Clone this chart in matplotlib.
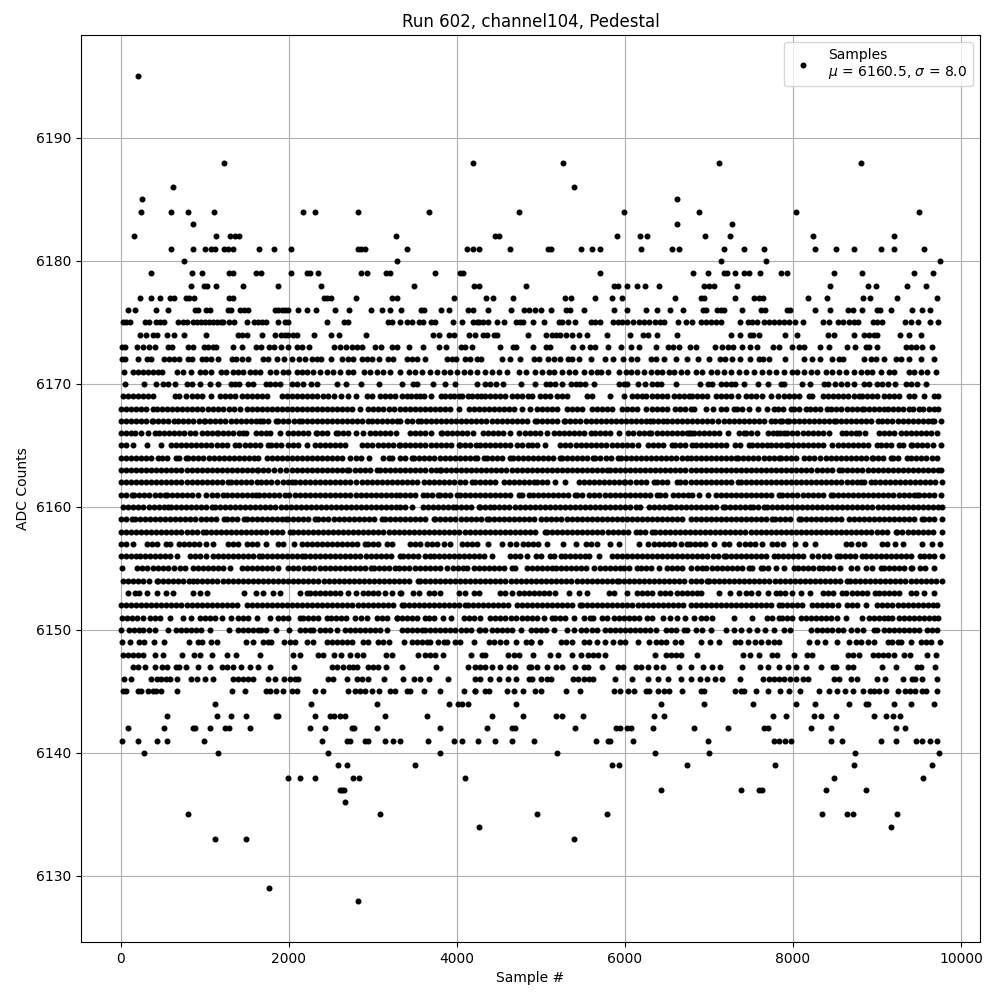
import matplotlib
matplotlib.use("Agg")
import matplotlib.pyplot as plt
import numpy as np

# sample numbers, one list per ADC level
s6195 = [199]
s6188 = [1226, 4187, 5262, 7120, 8811]
s6186 = [617, 5393]
s6185 = [247, 6619]
s6184 = [235, 593, 796, 1106, 2169, 2312, 2826, 3662, 4736, 5988, 6881, 8037, 9501]
s6183 = [856, 6619, 7274]
s6182 = [151, 1130, 1297, 1361, 1405, 3268, 4454, 4501, 5905, 6179, 6262, 6953, 7251, 8239, 9204]
s6181 = [593, 856, 999, 1070, 1114, 1226, 1274, 1333, 1644, 1823, 2026, 2826, 2862, 2909, 3399, 4115, 4187, 4259, 4629,
         5083, 5119, 5476, 5607, 5702, 6190, 6560, 6643, 7179, 7417, 7655, 8263, 8513, 8727, 9049, 9204, 9561]
s6180 = [748, 3291, 7143, 7679, 9752]
s6179 = [354, 844, 963, 1286, 1333, 1608, 1668, 2026, 2217, 2253, 2344, 2862, 2933, 3160, 3208, 3733, 4032, 4068,
         5702, 6810, 6989, 7179, 7215, 7310, 7417, 7477, 7608, 7858, 7929, 8489, 8823, 9442, 9668]
s6178 = [832, 987, 1023, 1130, 1453, 1871, 2384, 3494, 4199, 4259, 4820, 5869, 5917, 6024, 6143, 6238, 6405, 6941, 7000,
         7060, 7334, 8442, 8894, 8989, 9359, 9585]
s6177 = [223, 354, 462, 581, 629, 772, 808, 868, 1286, 1333, 2420, 2456, 2503, 2802, 3232, 3280, 3960, 4342, 4426, 4665,
         5285, 5357, 5643, 5845, 5964, 6595, 6905, 6941, 7310, 7536, 7596, 7644, 8180, 8406, 8835, 8922, 9240, 9716]
s6176 = [80, 163, 414, 557, 880, 915, 1011, 1059, 1274, 1309, 1417, 1465, 1512, 1835, 1875, 1915, 1955, 1990, 2109, 2217,
         2324, 2551, 2718, 2981, 3112, 3208, 3339, 3566, 3602, 3805, 3900, 4127, 4187, 4366, 4641, 4796, 4856, 4928, 5000,
         5119, 5297, 5345, 5512, 5869, 6024, 6250, 6381, 6536, 6691, 6929, 6965, 7096, 7143, 7179, 7393, 7620, 7667, 7929,
         7965, 8263, 8442, 8656, 8715, 8823, 8999, 9037, 9168, 9418, 9537, 9632]
s6175 = [20, 60, 107, 291, 338, 418, 466, 513, 677, 736, 784, 856, 903, 951, 999, 1047, 1095, 1143, 1191, 1214, 1286, 1345,
         1500, 1584, 1632, 1680, 1731, 1867, 1954, 1990, 2456, 2659, 2706, 3184, 3232, 3323, 3407, 3459, 3542, 3590, 3685,
         3733, 3948, 4056, 4187, 4235, 4259, 4306, 4366, 4473, 4557, 4700, 4748, 4788, 4904, 5031, 5214, 5250, 5321, 5404,
         5595, 5643, 5702, 5857, 5917, 5968, 6028, 6099, 6167, 6226, 6286, 6357, 6417, 6464, 6631, 6726, 6798, 6905, 6965,
         7024, 7084, 7147, 7370, 7465, 7516, 7576, 7655, 7715, 7774, 7834, 7893, 7953, 8025, 8116, 8358, 8430, 8537, 8596,
         8668, 8727, 8775, 8954, 9005, 9065, 9335, 9403, 9482, 9629, 9728]
s6174 = [223, 295, 378, 426, 545, 629, 748, 1011, 1393, 1441, 1500, 1680, 1839, 1910, 1958, 1990, 2050, 2097, 2300, 2503,
         2599, 2921, 3709, 3785, 3900, 3960, 4139, 4219, 4306, 4358, 4438, 4477, 4844, 5059, 5131, 5174, 5222, 5293, 5369,
         5452, 5547, 5786, 6060, 6214, 6274, 6381, 6619, 7262, 7370, 7489, 7524, 7596, 7906, 8048, 8418, 8489, 8727, 8847,
         8906, 8966, 9005, 9275, 9382, 9525]
s6173 = [12, 44, 187, 259, 338, 402, 557, 605, 796, 856, 987, 1035, 1095, 1134, 1333, 1441, 1604, 1664, 1763, 1823, 1906,
         1990, 2097, 2149, 2241, 2539, 2607, 2683, 2754, 2806, 2866, 3029, 3096, 3224, 3284, 3423, 3590, 3781, 3865, 4044,
         4099, 4179, 4509, 4668, 4704, 4904, 5059, 5107, 5381, 5488, 5583, 5643, 5798, 5956, 6071, 6167, 6369, 6512, 6572,
         6643, 6774, 6846, 7072, 7155, 7227, 7286, 7393, 7489, 7576, 7763, 7834, 7989, 8072, 8132, 8318, 8430, 8644, 8739,
         8870, 8906, 8999, 9347, 9406, 9466, 9537, 9656]
s6172 = [12, 52, 199, 306, 358, 509, 569, 637, 685, 796, 844, 963, 1015, 1075, 1154, 1321, 1373, 1445, 1512, 1692, 1751,
         1863, 1946, 2038, 2121, 2189, 2277, 2328, 2380, 2503, 2635, 2706, 2766, 2874, 2925, 2993, 3077, 3184, 3244, 3403,
         3463, 3522, 3614, 3880, 3940, 3988, 4099, 4159, 4239, 4286, 4537, 4629, 4748, 4916, 4972, 5083, 5154, 5226, 5321,
         5373, 5452, 5595, 5762, 5857, 5980, 6067, 6139, 6310, 6369, 6464, 6607, 6738, 6869, 7000, 7131, 7187, 7274, 7366,
         7489, 7596, 7644, 7715, 7906, 8132, 8227, 8322, 8461, 8549, 8600, 8847, 8926, 8989, 9085, 9227, 9291, 9382, 9529, 9680]
s6171 = [40, 139, 199, 259, 318, 378, 438, 486, 669, 736, 836, 935, 995, 1075, 1194, 1254, 1333, 1393, 1453, 1532, 1592,
         1652, 1779, 1851, 1930, 1990, 2090, 2149, 2209, 2289, 2368, 2448, 2527, 2607, 2706, 2766, 2893, 2965, 3045, 3124,
         3204, 3323, 3423, 3502, 3582, 3681, 3761, 3841, 3920, 4000, 4080, 4159, 4239, 4338, 4418, 4497, 4597, 4736, 4816,
         4932, 5011, 5091, 5151, 5250, 5329, 5401, 5512, 5591, 5671, 5718, 5798, 5929, 6008, 6067, 6147, 6226, 6306, 6377,
         6445, 6524, 6584, 6663, 6742, 6842, 6921, 7020, 7100, 7179, 7258, 7358, 7437, 7536, 7636, 7715, 7794, 7894, 7993,
         8052, 8132, 8211, 8290, 8390, 8469, 8549, 8628, 8727, 8807, 8886, 8946, 9045, 9144, 9204, 9382, 9442, 9521, 9601, 9700]
s6170 = [52, 278, 421, 504, 564, 643, 790, 849, 945, 1064, 1159, 1314, 1362, 1409, 1516, 1576, 1727, 1774, 1834, 1893, 2032,
         2092, 2171, 2267, 2330, 2577, 2684, 2862, 3076, 3345, 3476, 3524, 3710, 3861, 3972, 4242, 4337, 4397, 4468, 4544,
         4766, 4925, 5064, 5112, 5171, 5254, 5362, 5413, 5469, 5529, 5628, 5925, 5985, 6025, 6152, 6243, 6322, 6382, 6430,
         6604, 6892, 6988, 7039, 7146, 7197, 7258, 7305, 7416, 7579, 7702, 7853, 7893, 8107, 8202, 8369, 8421, 8496, 8568,
         8647, 8726, 8846, 8905, 9004, 9064, 9131, 9215, 9342, 9401, 9480, 9580]
s6169 = [28, 87, 147, 206, 266, 325, 385, 643, 695, 774, 842, 901, 961, 1068, 1179, 1238, 1298, 1358, 1437, 1497, 1556, 1616,
         1675, 1735, 1914, 1973, 2033, 2092, 2152, 2211, 2271, 2330, 2410, 2469, 2541, 2616, 2708, 2803, 2926, 2985, 3085,
         3144, 3204, 3263, 3345, 3405, 3453, 3516, 3563, 3611, 3694, 3809, 3861, 3913, 3960, 4020, 4060, 4131, 4179, 4238,
         4286, 4337, 4397, 4457, 4516, 4576, 4655, 4715, 4774, 4842, 4893, 4993, 5052, 5112, 5191, 5251, 5310, 5548, 5608,
         5818, 5985, 6084, 6144, 6203, 6255, 6322, 6382, 6441, 6501, 6580, 6640, 6700, 6759, 6802, 6861, 6921, 6973, 7079,
         7138, 7198, 7258, 7345, 7436, 7496, 7555, 7635, 7742, 7821, 7893, 7952, 8012, 8071, 8190, 8230, 8361, 8421, 8480,
         8540, 8600, 8659, 8726, 8786, 8826, 8885, 8945, 8996, 9084, 9143, 9203, 9262, 9382, 9441, 9560, 9679, 9727]
s6168 = [5, 60, 120, 180, 240, 300, 385, 433, 490, 550, 610, 670, 730, 790, 850, 910, 970, 1030, 1090, 1150, 1210, 1280, 1345,
         1416, 1496, 1555, 1615, 1675, 1735, 1795, 1855, 1915, 1975, 2035, 2095, 2155, 2215, 2275, 2335, 2395, 2455, 2515, 2575,
         2635, 2695, 2755, 2845, 2945, 3005, 3065, 3125, 3185, 3245, 3323, 3380, 3440, 3500, 3560, 3623, 3682, 3742, 3802, 3862,
         3922, 4020, 4139, 4199, 4259, 4319, 4379, 4439, 4499, 4559, 4619, 4679, 4774, 4873, 4950, 5010, 5070, 5130, 5190, 5310,
         5370, 5430, 5490, 5608, 5668, 5728, 5788, 5848, 5966, 6025, 6085, 6145, 6255, 6320, 6382, 6442, 6502, 6600, 6660, 6720,
         6780, 6821, 6960, 7047, 7138, 7198, 7297, 7337, 7397, 7476, 7579, 7686, 7774, 7821, 7881, 7972, 8012, 8072, 8151, 8202,
         8262, 8322, 8409, 8457, 8517, 8577, 8637, 8697, 8757, 8826, 8846, 8906, 8966, 9026, 9084, 9131, 9191, 9251, 9311, 9382,
         9429, 9500, 9548, 9620, 9680, 9727]
s6167 = [3, 60, 120, 180, 240, 300, 365, 385, 445, 505, 565, 631, 683, 743, 803, 863, 923, 989, 1004, 1064, 1124, 1184, 1244,
         1304, 1364, 1424, 1484, 1544, 1604, 1655, 1695, 1755, 1842, 1874, 1934, 1994, 2054, 2120, 2152, 2212, 2272, 2332, 2392,
         2452, 2512, 2572, 2632, 2692, 2752, 2812, 2872, 2938, 2985, 3045, 3105, 3165, 3225, 3285, 3323, 3400, 3460, 3532, 3571,
         3631, 3691, 3751, 3811, 3871, 3931, 3991, 4051, 4111, 4171, 4231, 4291, 4351, 4411, 4471, 4531, 4591, 4651, 4711, 4771,
         4831, 4933, 4953, 5013, 5073, 5133, 5193, 5270, 5290, 5350, 5410, 5470, 5530, 5590, 5650, 5710, 5770, 5830, 5890, 5950,
         6010, 6070, 6130, 6190, 6250, 6303, 6334, 6394, 6453, 6500, 6560, 6620, 6680, 6740, 6800, 6860, 6920, 6980, 7040, 7110,
         7178, 7238, 7298, 7358, 7418, 7478, 7538, 7598, 7658, 7742, 7782, 7845, 7873, 7933, 7952, 8012, 8072, 8132, 8192, 8252,
         8312, 8372, 8432, 8488, 8508, 8568, 8628, 8688, 8748, 8808, 8868, 8928, 9012, 9064, 9124, 9184, 9244, 9304, 9364, 9424,
         9484, 9544, 9604, 9660, 9680, 9767]
s6166 = [2, 60, 120, 167, 234, 318, 400, 456, 516, 576, 636, 696, 756, 816, 876, 961, 1028, 1088, 1139, 1159, 1219, 1279, 1339,
         1399, 1457, 1484, 1604, 1664, 1724, 1775, 1895, 1985, 2045, 2105, 2165, 2225, 2322, 2338, 2398, 2458, 2560, 2588, 2648,
         2708, 2799, 2886, 2965, 3025, 3085, 3145, 3205, 3275, 3444, 3504, 3564, 3623, 3693, 3805, 3821, 3881, 3941, 4001, 4061,
         4121, 4190, 4310, 4370, 4430, 4490, 4550, 4627, 4734, 4806, 4866, 4926, 4986, 5072, 5157, 5211, 5271, 5338, 5390, 5449,
         5509, 5596, 5640, 5700, 5760, 5820, 5925, 6032, 6100, 6164, 6224, 6283, 6314, 6382, 6442, 6502, 6562, 6620, 6680, 6740,
         6780, 6761, 6821, 6881, 6941, 7001, 7061, 7121, 7226, 7357, 7417, 7444, 7504, 7575, 7702, 7762, 7813, 7845, 7893, 7933,
         7993, 8053, 8113, 8173, 8233, 8293, 8353, 8429, 8580, 8635, 8695, 8746, 8786, 8854, 9024, 9084, 9144, 9203, 9282, 9342,
         9402, 9462, 9522, 9582, 9642, 9719]
s6165 = [1, 60, 147, 315, 472, 595, 655, 715, 775, 835, 895, 955, 1015, 1075, 1139, 1199, 1259, 1358, 1407, 1477, 1537, 1597,
         1657, 1755, 1782, 1842, 1902, 1993, 2045, 2105, 2211, 2311, 2371, 2431, 2491, 2551, 2611, 2668, 2874, 2934, 2994, 3054,
         3114, 3174, 3234, 3305, 3325, 3385, 3445, 3505, 3565, 3625, 3685, 3745, 3805, 3865, 3925, 4020, 4032, 4092, 4152, 4230,
         4270, 4330, 4390, 4450, 4510, 4570, 4630, 4715, 4774, 4840, 4893, 4953, 5052, 5231, 5291, 5351, 5411, 5471, 5531, 5591,
         5651, 5711, 5771, 5846, 5906, 5966, 6026, 6086, 6152, 6271, 6331, 6391, 6451, 6561, 6600, 6660, 6720, 6801, 6841, 6901,
         6961, 7021, 7081, 7141, 7198, 7309, 7369, 7476, 7516, 7576, 7636, 7694, 7734, 7794, 7854, 7913, 7940, 8000, 8060, 8120,
         8180, 8240, 8300, 8360, 8468, 8536, 8596, 8656, 8716, 8776, 8836, 8896, 9004, 9044, 9104, 9164, 9262, 9314, 9401, 9421,
         9481, 9541, 9601, 9661, 9759]
s6164 = [2, 60, 120, 180, 240, 300, 360, 444, 484, 544, 655, 691, 770, 802, 862, 922, 982, 1042, 1102, 1162, 1222, 1282, 1342,
         1402, 1462, 1522, 1582, 1636, 1735, 1795, 1855, 1915, 1975, 2035, 2095, 2155, 2215, 2275, 2335, 2395, 2455, 2515, 2575,
         2635, 2727, 2795, 2855, 2954, 3125, 3185, 3224, 3323, 3380, 3464, 3492, 3552, 3612, 3672, 3732, 3792, 3852, 3912, 3972,
         4032, 4092, 4152, 4218, 4238, 4326, 4357, 4417, 4477, 4537, 4635, 4667, 4727, 4787, 4847, 4907, 4967, 5027, 5087, 5147,
         5231, 5251, 5311, 5371, 5431, 5491, 5551, 5620, 5648, 5708, 5768, 5828, 5914, 5953, 6013, 6073, 6133, 6193, 6253, 6313,
         6373, 6433, 6493, 6553, 6613, 6673, 6733, 6780, 6842, 6902, 6962, 7022, 7082, 7146, 7198, 7258, 7317, 7345, 7405, 7465,
         7525, 7583, 7654, 7714, 7774, 7833, 7853, 7913, 7973, 8032, 8131, 8191, 8251, 8322, 8393, 8453, 8513, 8573, 8633, 8693,
         8753, 8813, 8873, 8937, 8957, 9017, 9077, 9163, 9195, 9255, 9362, 9401, 9461, 9521, 9581, 9660, 9719]
s6163 = [3, 60, 120, 180, 240, 300, 360, 420, 480, 540, 600, 660, 720, 780, 840, 900, 960, 1020, 1080, 1140, 1200, 1260, 1320,
         1380, 1440, 1500, 1560, 1616, 1636, 1696, 1756, 1816, 1893, 1965, 2033, 2093, 2153, 2213, 2273, 2333, 2393, 2453, 2513,
         2573, 2633, 2688, 2720, 2780, 2840, 2900, 2960, 3045, 3085, 3145, 3205, 3265, 3323, 3385, 3445, 3505, 3565, 3625, 3685,
         3745, 3801, 3809, 3869, 3929, 3989, 4049, 4109, 4169, 4229, 4289, 4349, 4409, 4469, 4529, 4589, 4649, 4709, 4769, 4829,
         4889, 4949, 5009, 5069, 5129, 5189, 5249, 5309, 5369, 5429, 5489, 5549, 5609, 5669, 5729, 5780, 5818, 5878, 5938, 5998,
         6058, 6118, 6178, 6238, 6298, 6358, 6418, 6478, 6538, 6598, 6658, 6718, 6780, 6840, 6900, 6960, 7020, 7080, 7140, 7200,
         7260, 7320, 7380, 7440, 7500, 7560, 7620, 7680, 7740, 7800, 7860, 7920, 7980, 8040, 8100, 8160, 8220, 8280, 8340, 8400,
         8460, 8548, 8587, 8647, 8707, 8767, 8827, 8887, 8947, 9007, 9067, 9127, 9187, 9247, 9307, 9367, 9427, 9487, 9547, 9607,
         9667, 9727, 9767]
s6162 = [3, 60, 120, 180, 240, 300, 360, 420, 480, 540, 600, 660, 720, 780, 840, 900, 960, 1020, 1080, 1140, 1200, 1278, 1306,
         1366, 1426, 1486, 1546, 1616, 1667, 1727, 1787, 1854, 1925, 1985, 2032, 2072, 2132, 2192, 2252, 2312, 2372, 2432, 2492,
         2552, 2612, 2672, 2732, 2792, 2866, 2926, 2986, 3046, 3106, 3166, 3226, 3286, 3340, 3400, 3460, 3520, 3603, 3662, 3730,
         3790, 3850, 3910, 3970, 4030, 4090, 4179, 4218, 4278, 4338, 4398, 4458, 4556, 4615, 4675, 4735, 4795, 4855, 4913, 4953,
         5013, 5073, 5171, 5290, 5450, 5510, 5570, 5630, 5690, 5750, 5810, 5870, 5930, 5985, 6005, 6065, 6125, 6185, 6245, 6342,
         6382, 6442, 6502, 6620, 6660, 6720, 6780, 6840, 6900, 6960, 7020, 7080, 7140, 7200, 7260, 7345, 7377, 7437, 7497, 7557,
         7617, 7677, 7737, 7797, 7857, 7917, 7977, 8037, 8097, 8157, 8217, 8277, 8337, 8397, 8457, 8517, 8577, 8637, 8697, 8757,
         8806, 8846, 8933, 8973, 9033, 9093, 9153, 9213, 9273, 9333, 9393, 9453, 9513, 9573, 9633, 9693, 9778]
s6161 = [1, 60, 127, 159, 219, 279, 339, 399, 459, 524, 551, 611, 671, 731, 791, 851, 911, 1008, 1088, 1148, 1218, 1258, 1318,
         1378, 1438, 1498, 1558, 1603, 1647, 1707, 1767, 1827, 1887, 1953, 2000, 2072, 2132, 2192, 2252, 2312, 2372, 2432, 2492,
         2552, 2612, 2672, 2732, 2792, 2852, 2912, 2972, 3032, 3092, 3152, 3212, 3272, 3323, 3385, 3445, 3505, 3595, 3643, 3703,
         3770, 3794, 3854, 3914, 4000, 4032, 4092, 4152, 4212, 4272, 4332, 4392, 4452, 4512, 4572, 4632, 4735, 4774, 4860, 4900,
         4960, 5020, 5080, 5140, 5200, 5260, 5320, 5409, 5429, 5489, 5568, 5636, 5696, 5756, 5816, 5876, 5936, 5996, 6056, 6116,
         6176, 6236, 6296, 6382, 6413, 6473, 6572, 6628, 6688, 6748, 6800, 6880, 6990, 7079, 7139, 7199, 7259, 7319, 7379, 7439,
         7499, 7559, 7619, 7674, 7742, 7833, 7873, 7933, 7993, 8053, 8113, 8173, 8233, 8293, 8353, 8456, 8476, 8536, 8596, 8656,
         8716, 8776, 8836, 8896, 8956, 9016, 9076, 9136, 9196, 9256, 9316, 9376, 9436, 9480, 9500, 9560, 9620, 9680, 9759]
s6160 = [28, 88, 148, 208, 268, 328, 388, 448, 508, 563, 591, 651, 711, 771, 831, 891, 951, 1011, 1080, 1119, 1179, 1239, 1299,
         1359, 1419, 1479, 1539, 1599, 1659, 1719, 1779, 1839, 1899, 1959, 2019, 2079, 2139, 2199, 2259, 2319, 2379, 2439, 2499,
         2559, 2619, 2679, 2739, 2799, 2859, 2919, 2979, 3039, 3099, 3159, 3219, 3279, 3323, 3385, 3464, 3591, 3651, 3711, 3771,
         3831, 3891, 3948, 3988, 4048, 4108, 4168, 4258, 4270, 4330, 4390, 4445, 4505, 4565, 4625, 4685, 4745, 4805, 4865, 4925,
         4985, 5045, 5105, 5165, 5225, 5285, 5345, 5405, 5465, 5525, 5585, 5645, 5705, 5765, 5825, 5885, 5945, 6005, 6065, 6125,
         6184, 6283, 6343, 6403, 6463, 6521, 6550, 6610, 6670, 6730, 6780, 6840, 6900, 6960, 7020, 7080, 7166, 7186, 7246, 7306,
         7366, 7426, 7484, 7524, 7584, 7655, 7686, 7746, 7806, 7866, 7926, 7986, 8046, 8106, 8166, 8226, 8286, 8346, 8406, 8466,
         8526, 8586, 8646, 8706, 8766, 8826, 8886, 8946, 9006, 9066, 9126, 9186, 9246, 9306, 9366, 9426, 9486, 9546, 9606, 9666,
         9726, 9778]
s6159 = [1, 60, 135, 167, 227, 287, 347, 407, 467, 527, 587, 647, 707, 767, 827, 887, 947, 1007, 1067, 1127, 1226, 1258, 1318,
         1378, 1465, 1497, 1557, 1617, 1677, 1737, 1797, 1857, 1917, 1965, 1985, 2045, 2105, 2165, 2225, 2310, 2350, 2410, 2470,
         2530, 2590, 2650, 2710, 2770, 2830, 2890, 2950, 3010, 3105, 3144, 3204, 3264, 3323, 3385, 3445, 3505, 3565, 3625, 3722,
         3742, 3802, 3862, 3922, 3982, 4042, 4102, 4162, 4222, 4282, 4357, 4377, 4437, 4497, 4557, 4617, 4677, 4737, 4797, 4857,
         4917, 5000, 5064, 5124, 5184, 5244, 5304, 5364, 5424, 5484, 5544, 5604, 5664, 5724, 5784, 5844, 5904, 5964, 6024, 6084,
         6144, 6204, 6264, 6324, 6384, 6444, 6504, 6564, 6624, 6684, 6780, 6840, 6900, 6960, 7020, 7080, 7140, 7200, 7260, 7320,
         7380, 7440, 7500, 7560, 7620, 7680, 7754, 7786, 7846, 7906, 7966, 8071, 8091, 8151, 8211, 8271, 8331, 8391, 8451, 8511,
         8571, 8667, 8726, 8786, 8846, 8906, 8966, 9026, 9086, 9146, 9206, 9266, 9326, 9386, 9446, 9540, 9560, 9620, 9680, 9778]
s6158 = [2, 60, 120, 180, 240, 300, 360, 420, 480, 540, 600, 660, 720, 780, 840, 900, 980, 1012, 1072, 1132, 1192, 1252, 1312,
         1372, 1432, 1492, 1552, 1612, 1672, 1732, 1792, 1852, 1912, 2013, 2045, 2105, 2165, 2225, 2285, 2345, 2405, 2465, 2525,
         2585, 2645, 2705, 2765, 2825, 2885, 2945, 3005, 3065, 3125, 3185, 3245, 3305, 3365, 3425, 3485, 3545, 3605, 3665, 3725,
         3785, 3845, 3905, 3965, 4025, 4100, 4151, 4211, 4271, 4331, 4391, 4451, 4511, 4571, 4631, 4691, 4751, 4811, 4871, 4931,
         5052, 5072, 5132, 5192, 5252, 5312, 5372, 5432, 5492, 5552, 5612, 5672, 5732, 5792, 5852, 5912, 5972, 6032, 6136, 6176,
         6236, 6322, 6354, 6414, 6474, 6534, 6594, 6654, 6714, 6774, 6834, 6894, 6954, 7014, 7074, 7134, 7194, 7254, 7314, 7374,
         7434, 7494, 7554, 7614, 7674, 7734, 7794, 7854, 7914, 7974, 8034, 8094, 8154, 8214, 8274, 8334, 8394, 8454, 8514, 8574,
         8634, 8694, 8754, 8814, 8874, 8934, 8994, 9054, 9114, 9223, 9243, 9303, 9363, 9423, 9483, 9543, 9603, 9663, 9771]
s6157 = [1, 60, 139, 306, 366, 426, 532, 584, 691, 754, 814, 874, 934, 1012, 1100, 1278, 1338, 1398, 1497, 1556, 1616, 1723,
         1874, 1934, 2064, 2152, 2212, 2272, 2332, 2392, 2452, 2512, 2572, 2632, 2692, 2752, 2812, 2906, 2945, 3005, 3065, 3164,
         3225, 3445, 3505, 3565, 3643, 3702, 3762, 3841, 3913, 4060, 4120, 4180, 4240, 4365, 4536, 4635, 4707, 4782, 4842, 4902,
         4962, 5072, 5262, 5421, 5536, 5596, 5668, 5818, 5925, 6162, 6278, 6342, 6402, 6462, 6522, 6582, 6668, 6741, 6773, 6833,
         6893, 6953, 7059, 7178, 7238, 7357, 7424, 7484, 7544, 7635, 7746, 7806, 7885, 8024, 8139, 8262, 8635, 8695, 8774, 8846,
         9064, 9124, 9211, 9310, 9540, 9655, 9750]
s6156 = [1, 60, 120, 180, 226, 287, 345, 405, 465, 525, 585, 663, 822, 882, 942, 1012, 1092, 1152, 1212, 1272, 1332, 1392, 1452,
         1512, 1572, 1648, 1675, 1735, 1795, 1855, 1915, 1975, 2035, 2095, 2152, 2191, 2251, 2311, 2371, 2431, 2491, 2551, 2611,
         2671, 2731, 2791, 2851, 2911, 2971, 3031, 3091, 3151, 3211, 3317, 3353, 3413, 3473, 3533, 3623, 3682, 3730, 3782, 3842,
         3902, 3962, 4022, 4082, 4142, 4202, 4262, 4322, 4417, 4635, 4695, 4755, 4834, 4945, 5005, 5112, 5151, 5239, 5290, 5350,
         5410, 5470, 5529, 5568, 5687, 5846, 5906, 5966, 6026, 6086, 6146, 6206, 6263, 6322, 6382, 6442, 6502, 6562, 6622, 6682,
         6742, 6802, 6862, 6922, 6982, 7042, 7102, 7178, 7198, 7258, 7318, 7378, 7438, 7498, 7558, 7618, 7678, 7774, 7821, 7881,
         7941, 8001, 8061, 8121, 8230, 8295, 8369, 8429, 8520, 8560, 8620, 8680, 8740, 8826, 8865, 8925, 8985, 9045, 9105, 9165,
         9225, 9285, 9345, 9405, 9508, 9560, 9620, 9680, 9778]
s6155 = [16, 187, 247, 306, 385, 445, 505, 565, 631, 703, 763, 854, 915, 973, 1033, 1093, 1153, 1213, 1298, 1437, 1497, 1557,
         1617, 1677, 1737, 1797, 1874, 1993, 2053, 2113, 2173, 2233, 2293, 2370, 2425, 2489, 2549, 2609, 2669, 2729, 2789, 2849,
         2909, 2978, 3013, 3073, 3133, 3193, 3263, 3305, 3365, 3425, 3504, 3555, 3615, 3675, 3742, 3801, 3881, 3952, 4012, 4072,
         4119, 4198, 4258, 4318, 4378, 4438, 4498, 4558, 4655, 4695, 4834, 4894, 4954, 5014, 5074, 5131, 5179, 5239, 5299, 5359,
         5419, 5479, 5539, 5628, 5700, 5760, 5820, 5880, 5945, 5985, 6045, 6144, 6191, 6251, 6311, 6402, 6500, 6561, 6620, 6680,
         6780, 6862, 6921, 6961, 7031, 7091, 7151, 7211, 7271, 7331, 7391, 7476, 7516, 7615, 7647, 7707, 7793, 7893, 8012, 8060,
         8120, 8180, 8240, 8310, 8361, 8421, 8481, 8556, 8685, 8766, 8865, 8945, 9044, 9084, 9144, 9204, 9264, 9324, 9401, 9421,
         9508, 9570, 9675]
s6154 = [28, 88, 148, 208, 268, 328, 425, 444, 504, 564, 624, 684, 744, 804, 861, 909, 969, 1029, 1089, 1147, 1211, 1271, 1331,
         1391, 1451, 1511, 1571, 1631, 1691, 1751, 1811, 1871, 1931, 1991, 2051, 2111, 2171, 2231, 2291, 2351, 2411, 2471, 2531,
         2591, 2651, 2711, 2771, 2831, 2891, 2951, 3011, 3071, 3131, 3191, 3251, 3311, 3371, 3431, 3532, 3555, 3615, 3675, 3735,
         3795, 3855, 3915, 3975, 4035, 4095, 4155, 4215, 4275, 4335, 4395, 4455, 4515, 4576, 4643, 4703, 4763, 4823, 4883, 4943,
         5003, 5063, 5123, 5183, 5243, 5303, 5363, 5423, 5483, 5543, 5603, 5663, 5723, 5783, 5843, 5906, 5925, 5985, 6045, 6105,
         6165, 6225, 6285, 6345, 6405, 6465, 6525, 6585, 6645, 6705, 6780, 6840, 6900, 6980, 7000, 7060, 7120, 7180, 7240, 7300,
         7360, 7420, 7480, 7540, 7600, 7660, 7720, 7780, 7840, 7900, 7960, 8020, 8080, 8140, 8200, 8260, 8320, 8380, 8440, 8500,
         8560, 8639, 8679, 8739, 8799, 8859, 8919, 8979, 9039, 9099, 9159, 9219, 9279, 9339, 9399, 9459, 9519, 9579, 9639, 9699, 9778]
s6153 = [87, 167, 218, 313, 424, 531, 623, 861, 941, 1020, 1465, 1612, 1691, 1815, 1894, 2132, 2211, 2251, 2311, 2371, 2431,
         2491, 2551, 2611, 2708, 2799, 2886, 2938, 2998, 3065, 3144, 3224, 3330, 3317, 3480, 3548, 3662, 3722, 3801, 4020, 4099,
         4198, 4258, 4516, 4576, 4655, 4734, 4794, 4854, 4914, 4974, 5034, 5094, 5171, 5334, 5449, 5548, 5806, 5874, 6020, 6140,
         6200, 6263, 6322, 6422, 6482, 6541, 6620, 6680, 6740, 6801, 6861, 6909, 7117, 7248, 7357, 7436, 7496, 7583, 7702, 7793,
         7845, 7905, 7992, 8099, 8202, 8361, 8421, 8481, 8588, 8635, 8706, 8766, 8826, 8886, 8973, 9024, 9084, 9144, 9203, 9262,
         9401, 9461, 9560, 9679]
s6152 = [2, 60, 120, 180, 240, 300, 360, 420, 480, 540, 600, 660, 720, 780, 840, 900, 960, 1020, 1080, 1140, 1200, 1260, 1320,
         1380, 1497, 1556, 1616, 1676, 1736, 1796, 1856, 1916, 1976, 2036, 2096, 2156, 2216, 2276, 2336, 2396, 2456, 2516, 2576,
         2636, 2696, 2756, 2816, 2876, 2936, 2996, 3056, 3116, 3176, 3236, 3345, 3365, 3425, 3485, 3545, 3605, 3665, 3725, 3785,
         3845, 3905, 3965, 4025, 4100, 4127, 4187, 4247, 4307, 4367, 4427, 4487, 4547, 4607, 4715, 4774, 4834, 4894, 4954, 5014,
         5074, 5134, 5194, 5254, 5314, 5374, 5469, 5489, 5549, 5609, 5669, 5729, 5789, 5849, 5909, 5969, 6029, 6089, 6149, 6209,
         6269, 6329, 6389, 6449, 6509, 6569, 6629, 6689, 6780, 6840, 6900, 6960, 7020, 7080, 7140, 7200, 7260, 7320, 7380, 7440,
         7500, 7560, 7620, 7680, 7740, 7833, 7865, 7925, 7985, 8045, 8105, 8230, 8290, 8350, 8410, 8470, 8530, 8639, 8706, 8766,
         8865, 9004, 9064, 9124, 9184, 9244, 9304, 9364, 9424, 9484, 9544, 9604, 9664, 9719]
s6151 = [8, 68, 128, 188, 266, 345, 405, 465, 584, 743, 834, 941, 1001, 1061, 1119, 1199, 1306, 1397, 1457, 1517, 1616, 1771,
         1874, 1934, 1994, 2132, 2164, 2224, 2284, 2344, 2449, 2501, 2561, 2621, 2681, 2787, 2854, 2926, 3045, 3105, 3164, 3283,
         3285, 3345, 3405, 3465, 3525, 3623, 3662, 3722, 3833, 3932, 4079, 4139, 4198, 4270, 4397, 4457, 4517, 4577, 4637, 4697,
         4774, 4834, 4894, 4953, 5040, 5131, 5171, 5231, 5290, 5389, 5508, 5588, 5620, 5727, 5787, 5866, 5925, 5985, 6045, 6104,
         6164, 6263, 6322, 6453, 6541, 6620, 6719, 6821, 6900, 6960, 7039, 7297, 7516, 7686, 7746, 7833, 7865, 7925, 7992, 8091,
         8151, 8213, 8278, 8338, 8398, 8458, 8518, 8627, 8818, 8905, 8965, 9025, 9084, 9131, 9183, 9262, 9322, 9382, 9441, 9500,
         9560, 9620, 9679, 9727]
s6150 = [0, 99, 159, 219, 259, 330, 410, 557, 657, 717, 777, 837, 897, 957, 1055, 1286, 1393, 1453, 1513, 1573, 1632, 1672,
         1731, 1847, 2002, 2129, 2189, 2249, 2289, 2368, 2428, 2488, 2567, 2667, 2727, 2787, 2847, 2907, 2967, 3027, 3087, 3164,
         3343, 3403, 3463, 3523, 3582, 3622, 3682, 3742, 3802, 3862, 3922, 3982, 4042, 4102, 4162, 4259, 4279, 4338, 4418, 4478,
         4538, 4598, 4658, 4756, 4876, 4936, 4996, 5056, 5154, 5313, 5393, 5472, 5532, 5611, 5671, 5758, 5818, 5878, 5938, 5998,
         6058, 6118, 6178, 6238, 6298, 6365, 6484, 6544, 6604, 6703, 6742, 6842, 6921, 7020, 7199, 7298, 7378, 7477, 7576, 7667,
         7774, 7894, 7965, 8210, 8290, 8350, 8410, 8470, 8530, 8590, 8688, 8767, 8838, 8966, 9005, 9085, 9145, 9205, 9265, 9325,
         9385, 9445, 9505, 9601, 9660, 9720]
s6149 = [8, 107, 211, 279, 390, 509, 808, 920, 967, 1067, 1138, 1493, 1572, 1692, 1751, 1791, 1943, 2010, 2070, 2209, 2289, 2448,
         2508, 2568, 2628, 2688, 2754, 2885, 2945, 3057, 3125, 3192, 3375, 3463, 3523, 3583, 3643, 3681, 3769, 3841, 3881, 3972,
         4040, 4199, 4378, 4438, 4517, 4581, 4700, 4816, 4880, 4876, 4988, 5234, 5293, 5369, 5512, 5571, 5667, 5762, 5857, 5941,
         6000, 6155, 6286, 6365, 6429, 6492, 6595, 6671, 6905, 7008, 7115, 7310, 7370, 7465, 7544, 7620, 7703, 7775, 7834, 8186,
         8286, 8385, 8528, 8671, 8751, 8814, 8894, 8965, 9125, 9184, 9244, 9285, 9406, 9525, 9585, 9645, 9752]
s6148 = [20, 80, 140, 199, 259, 410, 496, 724, 867, 938, 1083, 1262, 1369, 1656, 2050, 2130, 2348, 2408, 2539, 2623, 2730,
         2805, 2886, 3156, 3232, 3531, 3622, 3682, 3742, 3834, 4163, 4299, 4338, 4605, 4677, 4736, 4904, 5107, 5202, 5369, 5472,
         5560, 5620, 5680, 5758, 6357, 6492, 6552, 6612, 6663, 6862, 7405, 7489, 7596, 7750, 7814, 8012, 8171, 8222, 8656, 8716,
         8785, 8950, 9010, 9070, 9130, 9204, 9321, 9393, 9601, 9704]
s6147 = [139, 199, 282, 410, 486, 545, 649, 696, 772, 916, 1059, 1202, 1262, 1333, 1429, 1536, 1632, 1775, 2062, 2515, 2575,
         2647, 2718, 2766, 2814, 2945, 3005, 3065, 3160, 3351, 3745, 4127, 4219, 4279, 4339, 4418, 4517, 4617, 4696, 4856, 4876,
         4956, 5075, 5175, 5250, 5404, 5512, 5560, 5726, 5917, 5976, 6131, 6187, 6278, 6366, 6453, 6643, 6786, 6933, 7032, 7131,
         7393, 7607, 7703, 7830, 7941, 8041, 8156, 8334, 8473, 8513, 8656, 8715, 9061, 9227, 9481, 9521, 9692]
s6146 = [32, 123, 362, 426, 478, 537, 585, 665, 836, 903, 999, 1095, 1333, 1393, 1453, 1512, 1572, 1751, 1831, 1943, 2010, 2070,
         2109, 2468, 2527, 2686, 2806, 2866, 2945, 3136, 3363, 3494, 3554, 3661, 3892, 4211, 4279, 4398, 4497, 4613, 4701, 4856,
         4892, 5000, 5075, 5118, 5377, 5437, 5508, 5568, 5619, 5881, 6079, 6278, 6397, 6516, 6667, 6786, 6893, 6977, 7072, 7155,
         7370, 7643, 7715, 7775, 7834, 7894, 7965, 8033, 8120, 8180, 8488, 8548, 8691, 8763, 8999, 9093, 9315, 9422, 9458, 9537,
         9716]
s6145 = [20, 60, 199, 239, 318, 378, 418, 478, 665, 1321, 1477, 1731, 1779, 1851, 1930, 2038, 2097, 2312, 2408, 2706, 2786, 2846,
         2905, 2993, 3077, 3204, 3264, 3403, 3443, 3602, 3793, 4080, 4220, 4219, 4338, 4378, 4597, 4684, 4780, 4932, 5000, 5300,
         5464, 5869, 5945, 6040, 6111, 6250, 6286, 6389, 6468, 6528, 6683, 6905, 6945, 7310, 7385, 7417, 7560, 7703, 7846, 7953,
         8084, 8306, 8425, 8525, 8620, 8715, 8835, 8918, 8965, 9026, 9111, 9246, 9330, 9390, 9450, 9530, 9585, 9716]
s6144 = [1118, 2265, 3053, 3900, 4008, 4056, 4127, 4700, 6429, 6941, 7524, 8037, 8263, 8668, 8866, 8894, 9204, 9406, 9680]
s6143 = [545, 1142, 1309, 1488, 1847, 1871, 2312, 2491, 2539, 2611, 2670, 3148, 3637, 4413, 4784, 5178, 5250, 5500, 6345, 6464,
         7763, 7917, 8251, 8334, 8513, 8966, 9108, 9192, 9275]
s6142 = [80, 509, 856, 880, 1059, 1238, 1286, 1536, 2253, 2432, 2754, 2778, 3053, 3793, 4354, 4653, 4688, 5404, 5893, 5940,
         6024, 6071, 6333, 6822, 7227, 7655, 7703, 8215, 8453, 9227, 9335]
s6141 = [8, 199, 426, 545, 987, 2396, 2694, 2730, 2909, 2945, 3148, 3244, 3327, 3650, 3960, 4056, 4247, 4450, 4653, 4916, 5655,
         5798, 5821, 6095, 6989, 7775, 7834, 7906, 7977, 8453, 8584, 9049, 9227, 9466, 9537, 9632, 9716]
s6140 = [271, 1154, 2468, 3793, 5190, 6357, 7000, 8739, 9740]
s6139 = [2587, 2694, 3506, 5845, 5929, 6738, 7786, 8727, 9656]
s6138 = [1990, 2133, 2312, 2766, 2838, 4091, 8489, 9549]
s6137 = [2611, 2635, 2659, 6429, 7382, 7596, 7632, 8394, 8870]
s6136 = [2670]
s6135 = [796, 3088, 4952, 5786, 8346, 8644, 8715, 9240]
s6134 = [4259, 9168]
s6133 = [1118, 1488, 5393]
s6129 = [1763]
s6128 = [2826]

levels = [6195, 6188, 6186, 6185, 6184, 6183, 6182, 6181, 6180, 6179, 6178, 6177, 6176, 6175, 6174, 6173, 6172, 6171, 6170,
          6169, 6168, 6167, 6166, 6165, 6164, 6163, 6162, 6161, 6160, 6159, 6158, 6157, 6156, 6155, 6154, 6153, 6152, 6151,
          6150, 6149, 6148, 6147, 6146, 6145, 6144, 6143, 6142, 6141, 6140, 6139, 6138, 6137, 6136, 6135, 6134, 6133, 6129, 6128]
rows = [s6195, s6188, s6186, s6185, s6184, s6183, s6182, s6181, s6180, s6179, s6178, s6177, s6176, s6175, s6174, s6173, s6172,
        s6171, s6170, s6169, s6168, s6167, s6166, s6165, s6164, s6163, s6162, s6161, s6160, s6159, s6158, s6157, s6156, s6155,
        s6154, s6153, s6152, s6151, s6150, s6149, s6148, s6147, s6146, s6145, s6144, s6143, s6142, s6141, s6140, s6139, s6138,
        s6137, s6136, s6135, s6134, s6133, s6129, s6128]

x = np.concatenate([np.array(r) for r in rows])
y = np.concatenate([np.full(len(r), l) for l, r in zip(levels, rows)])

fig, ax = plt.subplots(figsize=(10, 10), dpi=100)
ax.plot(x, y, "k.", ms=6.6, label="Samples\n$\\mu$ = 6160.5, $\\sigma$ = 8.0")
ax.set_xlim(-476, 10226)
ax.set_ylim(6124.63, 6198.37)
ax.set_title("Run 602, channel104, Pedestal")
ax.set_xlabel("Sample #")
ax.set_ylabel("ADC Counts")
ax.grid(True)
ax.legend(loc="upper right")
fig.subplots_adjust(left=0.081, right=0.98, top=0.965, bottom=0.058)
fig.savefig("out.png")
